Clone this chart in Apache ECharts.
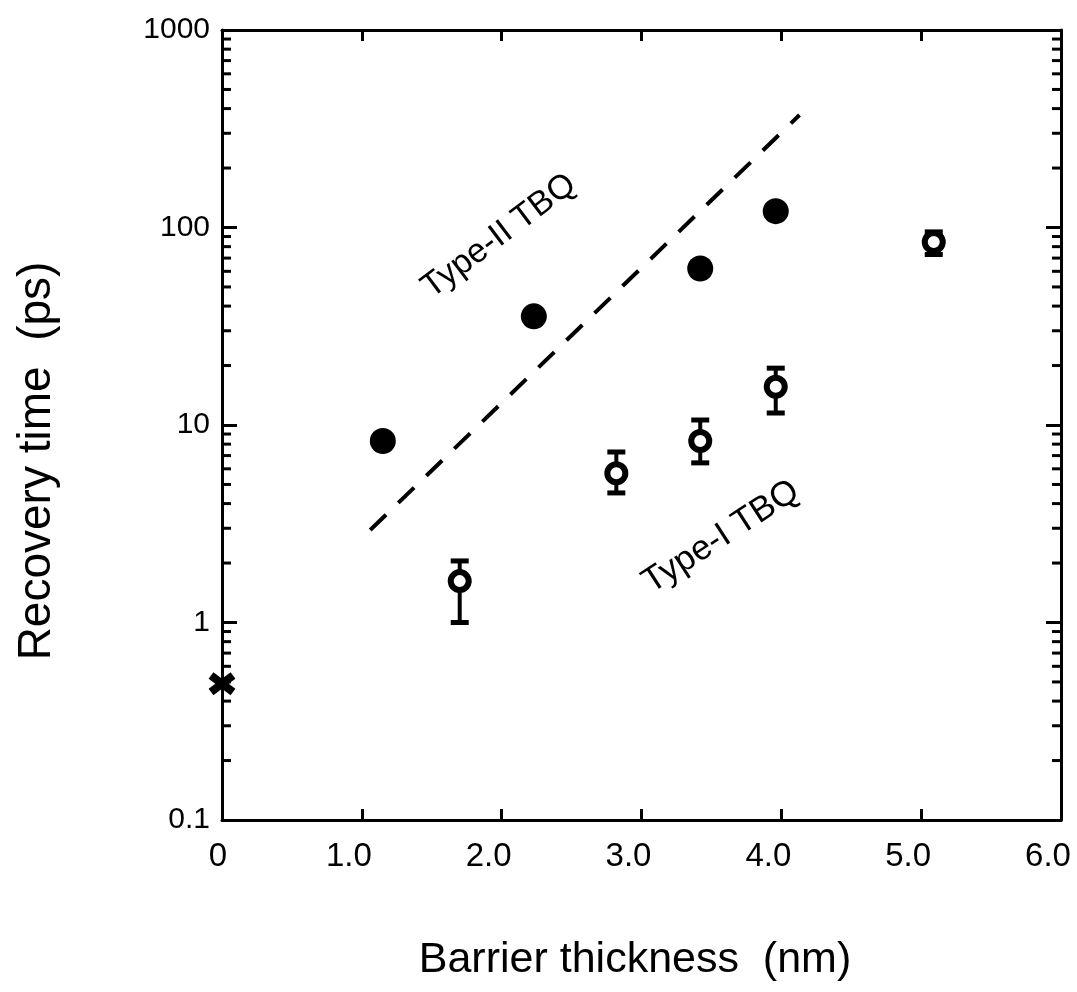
<!DOCTYPE html>
<html>
<head>
<meta charset="utf-8">
<script src="https://cdn.jsdelivr.net/npm/echarts@6/dist/echarts.min.js"></script>
<style>html,body{margin:0;padding:0;background:#fff}#c{width:1077px;height:992px}</style>
</head>
<body>
<div id="c"></div>
<script>
// Type-II TBQ (filled circles)
var filledX = [1.15, 2.23, 3.42, 3.96];
var filledY = [8.3, 35.5, 62, 121];
// Type-I TBQ (open circles with error bars)
var openX = [1.70, 2.82, 3.42, 3.96, 5.09];
var openY = [1.62, 5.7, 8.3, 15.6, 84.5];
var openLow = [1.0, 4.53, 6.43, 11.5, 73];
var openHigh = [2.05, 7.3, 10.6, 19.4, 95];
// reference point (cross)
var crossX = [0];
var crossY = [0.49];
// dashed guide line
var lineX = [1.06, 4.13];
var lineY = [2.94, 371];
// axis ticks
var yDecades = [0.1, 1, 10, 100];
var minorMult = [2, 3, 4, 5, 6, 7, 8, 9];

var FONT = "'Liberation Sans', Arial, Helvetica, sans-serif";
var minorVals = [];
yDecades.forEach(function (d) { minorMult.forEach(function (m) { minorVals.push([m * d]); }); });

function zip(a, b) { return a.map(function (v, i) { return [v, b[i]]; }); }

var chart = echarts.init(document.getElementById('c'));
var axisLineStyle = { color: '#000', width: 3 };

chart.setOption({
  animation: false,
  backgroundColor: '#fff',
  grid: { left: 222, right: 16, top: 30, bottom: 172, containLabel: false },
  xAxis: [{
    type: 'value', min: 0, max: 6, interval: 1, position: 'bottom',
    axisLine: { show: true, onZero: false, lineStyle: axisLineStyle },
    axisTick: { show: true, inside: true, length: 11, lineStyle: { color: '#000', width: 3 } },
    splitLine: { show: false },
    axisLabel: {
      color: '#000', fontFamily: FONT, fontSize: 33, margin: 20,
      formatter: function (v) { return v === 0 ? '{z|0}' : '{n|' + v.toFixed(1) + '}'; },
      rich: {
        z: { fontFamily: FONT, fontSize: 33, color: '#000', padding: [0, 8, 0, 0] },
        n: { fontFamily: FONT, fontSize: 33, color: '#000', padding: [0, 26, 0, 0] }
      }
    }
  }, {
    type: 'value', min: 0, max: 6, interval: 1, position: 'top',
    axisLine: { show: true, onZero: false, lineStyle: axisLineStyle },
    axisTick: { show: true, inside: true, length: 11, lineStyle: { color: '#000', width: 3 } },
    splitLine: { show: false }, axisLabel: { show: false }
  }],
  yAxis: [{
    type: 'log', logBase: 10, min: 0.1, max: 1000, position: 'left',
    axisLine: { show: true, onZero: false, lineStyle: axisLineStyle },
    axisTick: { show: true, inside: true, length: 15, lineStyle: { color: '#000', width: 3 } },
    splitLine: { show: false },
    axisLabel: { color: '#000', fontFamily: FONT, fontSize: 30, margin: 12,
      formatter: function (v) { return String(v); } }
  }, {
    type: 'log', logBase: 10, min: 0.1, max: 1000, position: 'right',
    axisLine: { show: true, onZero: false, lineStyle: axisLineStyle },
    axisTick: { show: true, inside: true, length: 15, lineStyle: { color: '#000', width: 3 } },
    splitLine: { show: false }, axisLabel: { show: false }
  }],
  graphic: [
    { type: 'text', x: 635, y: 960, style: { text: 'Barrier thickness  (nm)', font: '43px ' + FONT, fill: '#000', textAlign: 'center', textVerticalAlign: 'middle' } },
    { type: 'text', x: 37, y: 461, rotation: Math.PI / 2, style: { text: 'Recovery time  (ps)', font: '46px ' + FONT, fill: '#000', textAlign: 'center', textVerticalAlign: 'middle' } },
    { type: 'text', x: 499, y: 236, rotation: 37 * Math.PI / 180, style: { text: 'Type-II TBQ', font: '34px ' + FONT, fill: '#000', textAlign: 'center', textVerticalAlign: 'middle' } },
    { type: 'text', x: 721, y: 537, rotation: 33 * Math.PI / 180, style: { text: 'Type-I TBQ', font: '35px ' + FONT, fill: '#000', textAlign: 'center', textVerticalAlign: 'middle' } }
  ],
  series: [
    {
      type: 'custom', name: 'minorTicks', silent: true, z: 5,
      data: minorVals,
      renderItem: function (params, api) {
        var v = api.value(0);
        var a = api.coord([0, v]);
        var b = api.coord([6, v]);
        return { type: 'group', children: [
          { type: 'line', shape: { x1: a[0], y1: a[1], x2: a[0] + 9, y2: a[1] }, style: { stroke: '#000', lineWidth: 3 } },
          { type: 'line', shape: { x1: b[0] - 9, y1: b[1], x2: b[0], y2: b[1] }, style: { stroke: '#000', lineWidth: 3 } }
        ] };
      }
    },
    {
      type: 'line', name: 'guide', data: zip(lineX, lineY), showSymbol: false, symbol: 'none',
      lineStyle: { color: '#000', width: 4, type: [22, 17], opacity: 1 }, z: 3
    },
    {
      type: 'scatter', name: 'Type-II', data: zip(filledX, filledY), symbol: 'circle', symbolSize: 26,
      itemStyle: { color: '#000', opacity: 1 }, z: 4
    },
    {
      type: 'custom', name: 'errors', z: 4,
      data: openX.map(function (x, i) { return [x, openLow[i], openHigh[i]]; }),
      encode: { x: 0, y: [1, 2] },
      renderItem: function (params, api) {
        var lo = api.coord([api.value(0), api.value(1)]);
        var hi = api.coord([api.value(0), api.value(2)]);
        var w = 9;
        return { type: 'group', children: [
          { type: 'line', shape: { x1: lo[0], y1: lo[1], x2: hi[0], y2: hi[1] }, style: { stroke: '#000', lineWidth: 4 } },
          { type: 'line', shape: { x1: lo[0] - w, y1: lo[1], x2: lo[0] + w, y2: lo[1] }, style: { stroke: '#000', lineWidth: 5 } },
          { type: 'line', shape: { x1: hi[0] - w, y1: hi[1], x2: hi[0] + w, y2: hi[1] }, style: { stroke: '#000', lineWidth: 5 } }
        ] };
      }
    },
    {
      type: 'scatter', name: 'Type-I', data: zip(openX, openY), symbol: 'circle', symbolSize: 18,
      itemStyle: { color: '#fff', borderColor: '#000', borderWidth: 6, opacity: 1 }, z: 6
    },
    {
      type: 'custom', name: 'cross', z: 7, clip: false,
      data: zip(crossX, crossY),
      renderItem: function (params, api) {
        var p = api.coord([api.value(0), api.value(1)]);
        var s = 11;
        return { type: 'group', children: [
          { type: 'line', shape: { x1: p[0] - s, y1: p[1] - s * 0.75, x2: p[0] + s, y2: p[1] + s * 0.75 }, style: { stroke: '#000', lineWidth: 8 } },
          { type: 'line', shape: { x1: p[0] - s, y1: p[1] + s * 0.75, x2: p[0] + s, y2: p[1] - s * 0.75 }, style: { stroke: '#000', lineWidth: 8 } }
        ] };
      }
    }
  ]
});
</script>
</body>
</html>
